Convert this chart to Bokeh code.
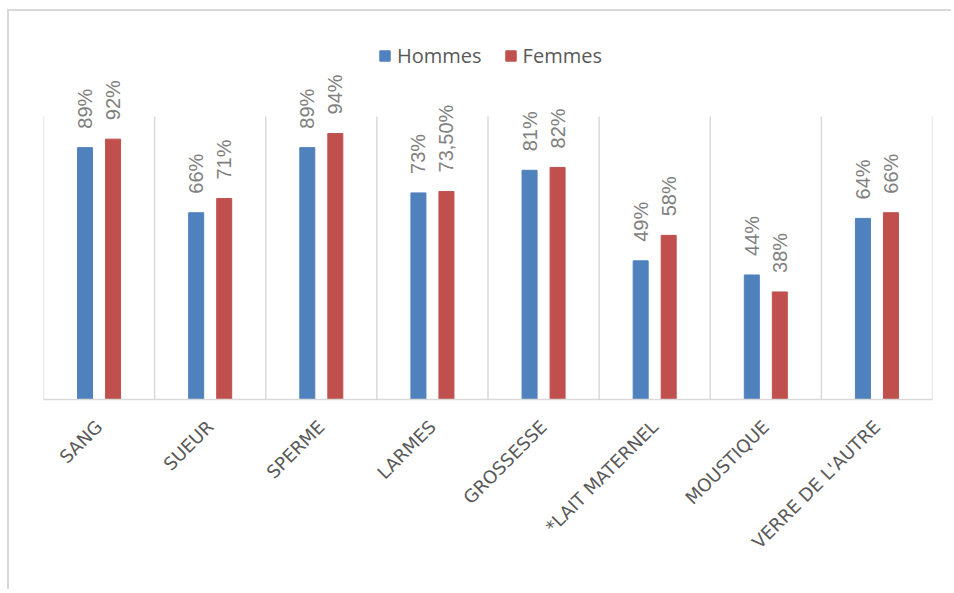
import math
from bokeh.plotting import figure
from bokeh.models import ColumnDataSource, FixedTicker, Range1d, Legend, LegendItem
from bokeh.core.properties import value
from bokeh.embed import file_html
from bokeh.resources import INLINE

categories = ["SANG", "SUEUR", "SPERME", "LARMES", "GROSSESSE", "*LAIT MATERNEL", "MOUSTIQUE", "VERRE DE L'AUTRE"]
hommes = [89, 66, 89, 73, 81, 49, 44, 64]
femmes = [92, 71, 94, 73.5, 82, 58, 38, 66]
hommes_labels = ["89%", "66%", "89%", "73%", "81%", "49%", "44%", "64%"]
femmes_labels = ["92%", "71%", "94%", "73,50%", "82%", "58%", "38%", "66%"]
y_max = 100

BLUE = "#4F81BD"
RED = "#C0504D"

centers = [i + 0.5 for i in range(len(categories))]
bounds = list(range(len(categories) + 1))
off = 0.126
bw = 0.135

src_h = ColumnDataSource(dict(x=[c - off for c in centers], top=hommes, lab=hommes_labels))
src_f = ColumnDataSource(dict(x=[c + off for c in centers], top=femmes, lab=femmes_labels))
src_g = ColumnDataSource(dict(x=bounds, y0=[0] * len(bounds), y1=[y_max] * len(bounds)))

FRAME_H = 379
PX_PER_UNIT = 2.83
p = figure(width=944, height=580, output_backend="svg", toolbar_location=None,
           x_range=Range1d(0, len(categories)), y_range=Range1d(0, FRAME_H / PX_PER_UNIT),
           min_border_left=34, min_border_right=21, min_border_top=9, min_border_bottom=192)
p.styles = {"margin-left": "7px", "margin-top": "9px",
            "border-top": "2px solid #d9d9d9", "border-left": "2px solid #d9d9d9"}
p.outline_line_color = None
p.background_fill_color = "white"
p.border_fill_color = "white"
p.xgrid.grid_line_color = None
p.ygrid.grid_line_color = None

p.segment(x0="x", x1="x", y0="y0", y1="y1", source=src_g, line_color="#d9d9d9", line_width=1.5)

rh = p.vbar(x="x", top="top", width=bw, source=src_h, fill_color=BLUE, line_color=BLUE)
rf = p.vbar(x="x", top="top", width=bw, source=src_f, fill_color=RED, line_color=RED)

for src in (src_h, src_f):
    p.text(x="x", y="top", text="lab", source=src, angle=math.pi / 2,
           text_align="left", text_baseline="middle", y_offset=-19,
           text_font=value("Liberation Sans"), text_font_size="20px", text_color="#808080")

p.yaxis.visible = False

p.xaxis.ticker = FixedTicker(ticks=centers)
p.xaxis.major_label_overrides = {c: cat for c, cat in zip(centers, categories)}
p.xaxis.major_label_orientation = math.pi / 4
p.xaxis.axis_line_color = "#d9d9d9"
p.xaxis.axis_line_width = 1.5
p.xaxis.major_tick_line_color = None
p.xaxis.minor_tick_line_color = None
p.xaxis.major_label_standoff = 18
p.xaxis.major_label_text_font = "DejaVu Sans"
p.xaxis.major_label_text_font_size = "18px"
p.xaxis.major_label_text_color = "#595959"

legend = Legend(items=[LegendItem(label="Hommes", renderers=[rh]),
                       LegendItem(label="Femmes", renderers=[rf])],
                orientation="horizontal", location=(335, 330),
                label_text_font="Open Sans", label_text_font_size="20px",
                label_text_color="#595959", glyph_width=13, glyph_height=13,
                spacing=22, label_standoff=6, border_line_color=None,
                background_fill_alpha=0, padding=0, margin=0)
p.add_layout(legend, "center")

open("out.html", "w").write(file_html(p, INLINE))
